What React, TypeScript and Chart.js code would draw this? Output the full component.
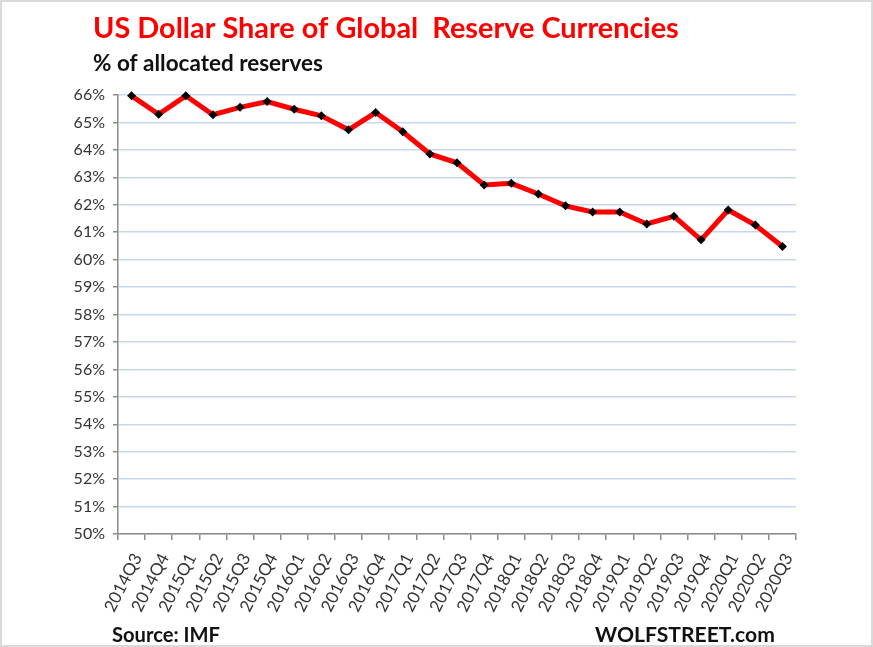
import { useEffect, useRef } from "react";
import { Chart, registerables } from "chart.js";

Chart.register(...registerables);

const categories = [
  "2014Q3", "2014Q4",
  "2015Q1", "2015Q2", "2015Q3", "2015Q4",
  "2016Q1", "2016Q2", "2016Q3", "2016Q4",
  "2017Q1", "2017Q2", "2017Q3", "2017Q4",
  "2018Q1", "2018Q2", "2018Q3", "2018Q4",
  "2019Q1", "2019Q2", "2019Q3", "2019Q4",
  "2020Q1", "2020Q2", "2020Q3",
];

const usdShare = [
  65.97, 65.3, 65.97, 65.28, 65.55, 65.76,
  65.48, 65.24, 64.73, 65.36,
  64.66, 63.85, 63.53, 62.72,
  62.78, 62.39, 61.96, 61.74,
  61.74, 61.3, 61.58, 60.72,
  61.81, 61.26, 60.48,
];

const yMin = 50;
const yMax = 66;
const yStep = 1;

const titleText = "US Dollar Share of Global  Reserve Currencies";
const subtitleText = "% of allocated reserves";
const sourceText = "Source: IMF";
const brandText = "WOLFSTREET.com";

function fitText(
  ctx: CanvasRenderingContext2D,
  text: string,
  x: number,
  y: number,
  width: number,
  weight: string,
  color: string,
  base: number
) {
  ctx.font = `${weight} ${base}px Lato`;
  const w = ctx.measureText(text).width;
  const size = (base * width) / w;
  ctx.font = `${weight} ${size}px Lato`;
  ctx.fillStyle = color;
  ctx.textAlign = "left";
  ctx.textBaseline = "alphabetic";
  ctx.fillText(text, x, y);
}

const textPlugin = {
  id: "textPlugin",
  afterDraw(chart: any) {
    const ctx: CanvasRenderingContext2D = chart.ctx;
    ctx.save();
    fitText(ctx, titleText, 93, 38, 586, "bold", "#ff0000", 26);
    fitText(ctx, subtitleText, 93, 71, 230, "bold", "#111111", 19);
    fitText(ctx, sourceText, 112, 642, 108, "bold", "#111111", 17);
    fitText(ctx, brandText, 595, 642, 180, "bold", "#111111", 17);
    ctx.strokeStyle = "#dadada";
    ctx.lineWidth = 2;
    ctx.strokeRect(1, 1, chart.width - 2, chart.height - 2);
    ctx.restore();
  },
};

export default function App() {
  const ref = useRef<HTMLCanvasElement | null>(null);

  useEffect(() => {
    document.body.style.margin = "0";
    const canvas = ref.current;
    if (!canvas) return;
    const chart = new Chart(canvas, {
      type: "line",
      data: {
        labels: categories,
        datasets: [
          {
            data: usdShare,
            borderColor: "#ff0000",
            borderWidth: 5,
            pointStyle: "rectRot",
            pointRadius: 4.5,
            pointBackgroundColor: "#000000",
            pointBorderColor: "#000000",
            pointBorderWidth: 0,
            tension: 0,
            clip: false as any,
          },
        ],
      },
      options: {
        animation: false,
        responsive: false,
        devicePixelRatio: 1,
        layout: { padding: { left: 58, right: 77, top: 95, bottom: 25 } },
        plugins: {
          legend: { display: false },
          tooltip: { enabled: false },
          title: { display: false },
        },
        scales: {
          x: {
            type: "category",
            offset: true,
            grid: {
              display: true,
              drawOnChartArea: false,
              drawTicks: true,
              tickLength: 6,
              offset: true,
              color: "#8c8c8c",
              lineWidth: 1.5,
            },
            border: { color: "#8c8c8c", width: 1.5 },
            ticks: {
              minRotation: 63,
              maxRotation: 63,
              autoSkip: false,
              font: { family: "Lato", size: 17 },
              color: "#333333",
              padding: 10,
              labelOffset: 6,
            },
            afterFit: (s: any) => {
              s.height = 88;
            },
          },
          y: {
            min: yMin,
            max: yMax,
            ticks: {
              stepSize: yStep,
              callback: (v: any) => `${v}%`,
              font: { family: "Lato", size: 16 },
              color: "#333333",
              padding: 8,
            },
            grid: {
              color: "#c6d7ee",
              lineWidth: 1.5,
              tickLength: 5,
              tickColor: "#8c8c8c",
            },
            border: { color: "#8c8c8c", width: 1.5 },
            afterFit: (s: any) => {
              s.width = 60;
            },
          },
        },
      },
      plugins: [textPlugin],
    });
    return () => chart.destroy();
  }, []);

  return (
    <div style={{ width: 873, height: 647, background: "#ffffff" }}>
      <canvas ref={ref} width={873} height={647} style={{ display: "block" }} />
    </div>
  );
}
